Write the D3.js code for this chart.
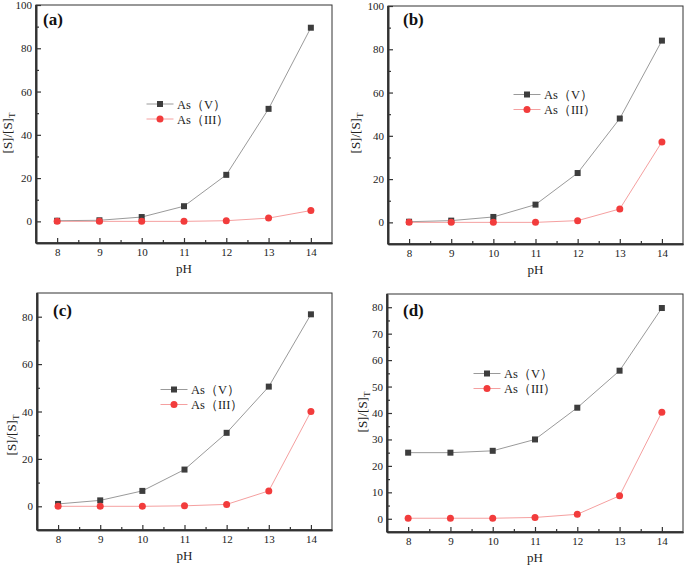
<!DOCTYPE html>
<html><head><meta charset="utf-8">
<script src="https://cdn.jsdelivr.net/npm/d3@7"></script>
<style>body{margin:0;background:#fff}svg{display:block}text{font-family:"Liberation Serif","Times New Roman",serif !important}</style>
</head><body>
<svg id="c" width="685" height="566"></svg>
<script>
const pH = [8, 9, 10, 11, 12, 13, 14];
const panelNames = ["(a)", "(b)", "(c)", "(d)"];
const seriesNames = ["As（V）", "As（III）"];
const asV_a = [0.3, 0.5, 2.0, 7.0, 21.5, 52.0, 89.5];
const asIII_a = [0.0, 0.0, 0.0, 0.0, 0.3, 1.5, 5.0];
const asV_b = [0.3, 0.8, 2.5, 8.2, 22.8, 48.0, 84.0];
const asIII_b = [0.0, 0.0, 0.0, 0.0, 0.8, 6.2, 37.2];
const asV_c = [1.0, 2.5, 6.5, 15.5, 31.0, 50.5, 81.0];
const asIII_c = [0.0, 0.0, 0.0, 0.2, 0.8, 6.5, 40.0];
const asV_d = [25.0, 25.0, 25.7, 30.0, 42.0, 56.0, 79.7];
const asIII_d = [0.2, 0.2, 0.2, 0.5, 1.7, 8.7, 40.3];
const yTicks_ab = [0, 20, 40, 60, 80, 100];
const yTicks_c = [0, 20, 40, 60, 80];
const yTicks_d = [0, 10, 20, 30, 40, 50, 60, 70, 80];

const panels = [
  {name: panelNames[0], v: asV_a, iii: asIII_a, yd: [-10, 100], yt: yTicks_ab, minor: 10,
   box: [36, 332, 5, 243], ylx: 8, ylc: 133, lg: [160, 104], lab: [43, 25]},
  {name: panelNames[1], v: asV_b, iii: asIII_b, yd: [-10, 100], yt: yTicks_ab, minor: 10,
   box: [388, 683, 6, 244], ylx: 356, ylc: 133, lg: [527, 94.5], lab: [403, 25]},
  {name: panelNames[2], v: asV_c, iii: asIII_c, yd: [-10, 90], yt: yTicks_c, minor: 10,
   box: [37, 332, 293, 530], ylx: 12, ylc: 435, lg: [174, 389.5], lab: [53, 316]},
  {name: panelNames[3], v: asV_d, iii: asIII_d, yd: [-5, 85], yt: yTicks_d, minor: 5,
   box: [387, 683, 294, 532], ylx: 363, ylc: 412, lg: [487, 373.5], lab: [403, 316]}
];

const svg = d3.select("#c");
const frameColor = "#333";
const colV = "#3d3d3d", lineV = "#9a9a9a";
const colIII = "#f23c3c", lineIII = "#f5a0a0";

panels.forEach(p => {
  const [x0, x1, y0, y1] = p.box;
  const x = d3.scaleLinear().domain([7.5, 14.5]).range([x0, x1]);
  const y = d3.scaleLinear().domain(p.yd).range([y1, y0]);
  const g = svg.append("g");

  g.append("rect").attr("x", x0).attr("y", y0).attr("width", x1 - x0).attr("height", y1 - y0)
    .attr("fill", "none").attr("stroke", frameColor).attr("stroke-width", 1);

  const xAxis = d3.axisBottom(x).tickValues(pH).tickSizeInner(-5).tickSizeOuter(0).tickPadding(5).tickFormat(d3.format("d"));
  g.append("g").attr("transform", `translate(0,${y1})`).call(xAxis);
  const minorX = d3.range(8.5, 14, 1);
  g.append("g").attr("transform", `translate(0,${y1})`)
    .call(d3.axisBottom(x).tickValues(minorX).tickSizeInner(-3).tickSizeOuter(0).tickFormat(""));

  const yAxis = d3.axisLeft(y).tickValues(p.yt).tickSizeInner(-5).tickSizeOuter(0).tickPadding(4).tickFormat(d3.format("d"));
  g.append("g").attr("transform", `translate(${x0},0)`).call(yAxis);
  const minorY = d3.range(Math.ceil(p.yd[0] / p.minor) * p.minor, p.yd[1] + 0.001, p.minor).filter(v => !p.yt.includes(v) && v > p.yd[0] && v < p.yd[1]);
  g.append("g").attr("transform", `translate(${x0},0)`)
    .call(d3.axisLeft(y).tickValues(minorY).tickSizeInner(-3).tickSizeOuter(0).tickFormat(""));

  g.selectAll(".domain").attr("stroke", frameColor).attr("stroke-width", 1.6);
  g.selectAll(".tick line").attr("stroke", frameColor).attr("stroke-width", 1.2);
  g.selectAll(".tick text").attr("font-size", 11).attr("fill", "#222");
  g.append("line").attr("x1", x0).attr("x2", x1).attr("y1", y1).attr("y2", y1).attr("stroke", frameColor).attr("stroke-width", 1.6);
  g.append("line").attr("x1", x0).attr("x2", x0).attr("y1", y0).attr("y2", y1).attr("stroke", frameColor).attr("stroke-width", 1.6);

  g.append("text").attr("x", (x0 + x1) / 2).attr("y", y1 + 30).attr("text-anchor", "middle")
    .attr("font-size", 13).attr("fill", "#222").text("pH");
  const yl = g.append("text").attr("transform", `translate(${p.ylx + 4},${p.ylc}) rotate(-90)`)
    .attr("text-anchor", "middle").attr("font-size", 13).attr("fill", "#222");
  yl.append("tspan").text("[S]/[S]");
  yl.append("tspan").attr("font-size", 9).attr("dy", 3).text("T");

  const line = d3.line().x((d, i) => x(pH[i])).y(d => y(d));
  g.append("path").datum(p.v).attr("d", line).attr("fill", "none").attr("stroke", lineV).attr("stroke-width", 1);
  g.append("path").datum(p.iii).attr("d", line).attr("fill", "none").attr("stroke", lineIII).attr("stroke-width", 1);

  g.selectAll(".sq").data(p.v).enter().append("rect")
    .attr("x", (d, i) => x(pH[i]) - 3).attr("y", d => y(d) - 3).attr("width", 6).attr("height", 6)
    .attr("fill", colV);
  g.selectAll(".ci").data(p.iii).enter().append("circle")
    .attr("cx", (d, i) => x(pH[i])).attr("cy", d => y(d)).attr("r", 3.5).attr("fill", colIII);

  const [lx, ly] = p.lg;
  const rows = [{n: seriesNames[0], lc: lineV, c: colV, sq: true}, {n: seriesNames[1], lc: lineIII, c: colIII, sq: false}];
  rows.forEach((r, i) => {
    const yy = ly + i * 15;
    g.append("line").attr("x1", lx - 13.5).attr("x2", lx + 13.5).attr("y1", yy).attr("y2", yy).attr("stroke", r.lc).attr("stroke-width", 1);
    if (r.sq) g.append("rect").attr("x", lx - 3).attr("y", yy - 3).attr("width", 6).attr("height", 6).attr("fill", r.c);
    else g.append("circle").attr("cx", lx).attr("cy", yy).attr("r", 3.5).attr("fill", r.c);
    g.append("text").attr("x", lx + 17).attr("y", yy + 4.5).attr("font-size", 12.5).attr("fill", "#222").text(r.n);
  });

  g.append("text").attr("x", p.lab[0]).attr("y", p.lab[1]).attr("font-size", 17).attr("font-weight", "bold")
    .attr("fill", "#111").text(p.name);
});
</script>
</body></html>
